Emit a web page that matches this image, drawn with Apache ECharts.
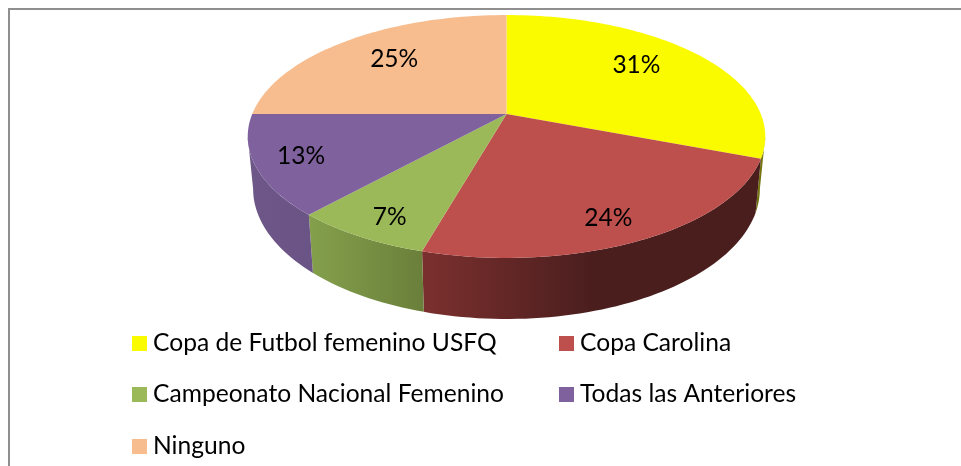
<!DOCTYPE html>
<html>
<head>
<meta charset="utf-8">
<style>
  html, body { margin: 0; padding: 0; background: #fff; }
  #chart { width: 961px; height: 466px; }
</style>
<script src="https://cdn.jsdelivr.net/npm/echarts@6/dist/echarts.min.js"></script>
</head>
<body>
<div id="chart"></div>
<script>
const categories = ['Copa de Futbol femenino USFQ', 'Copa Carolina', 'Campeonato Nacional Femenino', 'Todas las Anteriores', 'Ninguno'];
const shares = [30.8, 23.6, 7.3, 13.3, 25];
const topColors = ['#fbfb00', '#bd4f4c', '#9bb958', '#7f619d', '#f8bd8e'];
// left and right end of the shading on the rim
const wallColors = [['#6f6f0c', '#7a7a10'], ['#7b302e', '#4b1e1e'], ['#84a04c', '#6a7f3a'], ['#6e5888', '#6a5385'], ['#f8bd8e', '#f8bd8e']];

// ellipse planes with a little perspective, apex is where the slices meet
const topPlane = { cx: 506.5, cy: 114, a: 254.3, b: 117.3, k: -0.185 };
const basePlane = { cx: 506.5, cy: 165, a: 249, b: 125.5, k: -0.185 };
// the rim stops where the ellipses are widest
const rimFrom = 0.2796;
const rimTo = 0.7204;
const labelRadius = [0.68, 0.85, 0.84, 0.84, 0.7];
const labelNudge = [[-3, -7], [-11, 0], [3, 3], [3, -1], [3, -2]];
const labelFont = '24.5px Lato, sans-serif';

function project(plane, frac, r) {
  const t = frac * Math.PI * 2;
  const u = Math.sin(t) * r;
  const v = -Math.cos(t) * r;
  const d = 1 + plane.k * v;
  return [plane.cx + plane.a * u / d, plane.cy + plane.b * v / d];
}

function arcPoints(plane, from, to) {
  const steps = Math.max(2, Math.ceil((to - from) * 240));
  const pts = [];
  for (let i = 0; i <= steps; i++) {
    pts.push(project(plane, from + (to - from) * i / steps, 1));
  }
  return pts;
}

const total = shares.reduce((s, v) => s + v, 0);
let running = 0;
const ranges = shares.map(v => {
  const start = running / total;
  running += v;
  return [start, running / total];
});

function renderSlice(index) {
  return function (params, api) {
    const from = api.value(0);
    const to = api.value(1);
    const children = [];
    const wallFrom = Math.max(from, rimFrom);
    const wallTo = Math.min(to, rimTo);
    if (wallTo > wallFrom) {
      children.push({
        type: 'polygon',
        z2: 1 + index,
        shape: { points: arcPoints(topPlane, wallFrom, wallTo).concat(arcPoints(basePlane, wallFrom, wallTo).reverse()) },
        style: {
          fill: new echarts.graphic.LinearGradient(0, 0, 1, 0, index === 1 ? [
            { offset: 0, color: wallColors[index][0] },
            { offset: 0.5, color: wallColors[index][1] },
            { offset: 1, color: wallColors[index][1] }
          ] : [
            { offset: 0, color: wallColors[index][0] },
            { offset: 1, color: wallColors[index][1] }
          ])
        }
      });
    }
    children.push({
      type: 'polygon',
      z2: 10,
      shape: { points: [[topPlane.cx, topPlane.cy]].concat(arcPoints(topPlane, from, to)) },
      style: { fill: topColors[index] }
    });
    const pos = project(topPlane, (from + to) / 2, labelRadius[index]);
    children.push({
      type: 'text',
      z2: 20,
      style: {
        text: Math.round(shares[index]) + '%',
        x: pos[0] + labelNudge[index][0],
        y: pos[1] + labelNudge[index][1],
        align: 'center',
        verticalAlign: 'middle',
        font: labelFont,
        fill: '#000'
      }
    });
    return { type: 'group', children: children };
  };
}

const legendSpots = [[132, 331], [559, 331], [132, 382], [559, 382], [132, 434]];

const myChart = echarts.init(document.getElementById('chart'));
myChart.setOption({
  animation: false,
  backgroundColor: '#fff',
  legend: categories.map((name, i) => ({
    data: [name],
    left: legendSpots[i][0],
    top: legendSpots[i][1],
    padding: 0,
    icon: 'rect',
    itemWidth: 15,
    itemHeight: 15,
    selectedMode: false,
    textStyle: { color: '#000', fontFamily: 'Lato, sans-serif', fontSize: 24.6, padding: [0, 0, 0, 1] }
  })),
  graphic: [{
    type: 'polyline',
    silent: true,
    shape: { points: [[9, 466], [9, 9], [961, 9]] },
    style: { stroke: '#8f8f8f', lineWidth: 2, fill: null }
  }],
  series: categories.map((name, i) => ({
    type: 'custom',
    name: name,
    coordinateSystem: 'none',
    silent: true,
    itemStyle: { color: topColors[i] },
    renderItem: renderSlice(i),
    data: [ranges[i]]
  }))
});
window.addEventListener('resize', myChart.resize);
</script>
</body>
</html>
